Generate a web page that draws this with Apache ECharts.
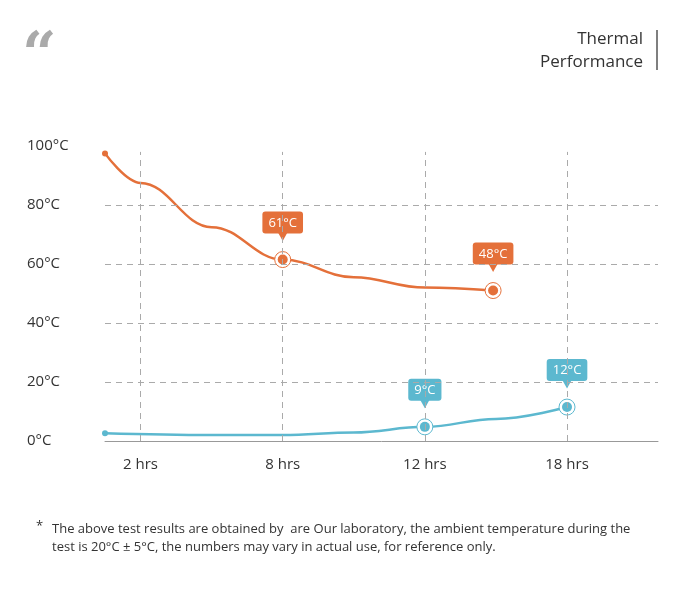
<!DOCTYPE html>
<html>
<head>
<meta charset="utf-8">
<script src="https://cdn.jsdelivr.net/npm/echarts@6/dist/echarts.min.js"></script>
<style>html,body{margin:0;background:#fff}#main{width:686px;height:594px}</style>
</head>
<body>
<div id="main"></div>
<script>
// x positions: 0 = 2 hrs, 1 = 8 hrs, 2 = 12 hrs, 3 = 18 hrs
var tickLabels = ['2 hrs', '8 hrs', '12 hrs', '18 hrs'];
var hotLine = [[-0.25, 97.5], [0, 87.5], [0.5, 72.5], [1, 61.5], [1.5, 55.5], [2, 52], [2.48, 51]];
var coldLine = [[-0.25, 2.6], [0.5, 2.0], [1, 2.0], [1.5, 2.9], [2, 4.8], [2.5, 7.5], [3, 11.5]];
var hotStart = [[-0.25, 97.5]];
var coldStart = [[-0.25, 2.6]];
var hotMarks = [[1, 61.5, '61°C'], [2.48, 51, '48°C']];
var coldMarks = [[2, 4.8, '9°C'], [3, 11.5, '12°C']];

var orange = '#e4703a', blue = '#5cb8cf';

function marks(data, color) {
  return [{
    type: 'scatter', data: data, symbol: 'circle', symbolSize: 16, z: 3,
    itemStyle: {color: '#fff', borderColor: color, borderWidth: 1, opacity: 1}
  }, {
    type: 'scatter', data: data, symbol: 'circle', symbolSize: 10, z: 4,
    itemStyle: {color: color, opacity: 1},
    label: {
      show: true, position: 'top', distance: 21,
      formatter: function (p) { return p.data[2]; },
      backgroundColor: color, borderRadius: 3, padding: [5, 6, 4, 6],
      color: '#fff', fontSize: 13, fontFamily: 'Open Sans'
    }
  }, {
    type: 'scatter', data: data, symbol: 'triangle', symbolSize: [10, 9],
    symbolRotate: 180, symbolOffset: [0, -23], z: 4,
    itemStyle: {color: color, opacity: 1}
  }];
}

var option = {
  animation: false,
  grid: {left: 105, right: 28, top: 146, bottom: 153},
  xAxis: {
    type: 'value', min: -0.25, max: 3.64, interval: 1,
    axisLine: {show: true, lineStyle: {color: '#999', width: 1}},
    axisTick: {show: false},
    splitLine: {show: false},
    axisLabel: {show: false}
  },
  yAxis: {
    type: 'value', min: 0, max: 100, interval: 20,
    axisLine: {show: false}, axisTick: {show: false},
    axisLabel: {
      formatter: function (v) { return v + '°C'; },
      color: '#333', fontSize: 15, fontFamily: 'Open Sans',
      align: 'left', margin: 78
    },
    splitLine: {show: false}
  },
  graphic: [
    {type: 'text', x: 22, y: 28, style: {text: '\u201C', fontSize: 60, fill: '#aaa', fontFamily: 'DejaVu Serif', fontWeight: 'bold'}},
    {type: 'text', x: 643, y: 28, style: {text: 'Thermal\nPerformance', fontSize: 17, fill: '#333', align: 'right', lineHeight: 23, fontFamily: 'Open Sans'}},
    {type: 'line', shape: {x1: 657, y1: 30, x2: 657, y2: 70}, style: {stroke: '#555', lineWidth: 1.5}},
    {type: 'text', x: 36, y: 520, style: {text: '*', fontSize: 13, fill: '#333', fontFamily: 'Open Sans'}},
    {type: 'text', x: 52, y: 520, style: {
      text: 'The above test results are obtained by  are Our laboratory, the ambient temperature during the\ntest is 20°C \u00B1 5°C, the numbers may vary in actual use, for reference only.',
      fontSize: 13, lineHeight: 18, fill: '#333', fontFamily: 'Open Sans'}}
  ],
  series: [{
    type: 'line', data: [], silent: true,
    markLine: {
      symbol: 'none', silent: true, label: {show: false},
      lineStyle: {color: '#aaa', type: [6, 5], width: 1},
      data: [{yAxis: 20}, {yAxis: 40}, {yAxis: 60}, {yAxis: 80},
        [{coord: [0, 0]}, {coord: [0, 98]}],
        [{coord: [1, 0]}, {coord: [1, 98]}],
        [{coord: [2, 0]}, {coord: [2, 98]}],
        [{coord: [3, 0]}, {coord: [3, 98]}]]
    }
  }, {
    type: 'line', data: hotLine, smooth: 0.4, smoothMonotone: 'x', showSymbol: false,
    lineStyle: {color: orange, width: 2.5}
  }, {
    type: 'line', data: coldLine, smooth: 0.4, smoothMonotone: 'x', showSymbol: false,
    lineStyle: {color: blue, width: 2.5}
  }, {
    type: 'scatter', data: hotStart, symbolSize: 6, itemStyle: {color: orange, opacity: 1}
  }, {
    type: 'scatter', data: coldStart, symbolSize: 6, itemStyle: {color: blue, opacity: 1}
  }].concat(marks(hotMarks, orange), marks(coldMarks, blue))
};

var chart = echarts.init(document.getElementById('main'));
chart.setOption(option);

// category labels under the axis
var g = option.graphic;
tickLabels.forEach(function (t, i) {
  var px = chart.convertToPixel({xAxisIndex: 0, yAxisIndex: 0}, [i, 0]);
  g.push({type: 'text', x: px[0], y: px[1] + 16, style: {text: t, fontSize: 15, fill: '#333', align: 'center', fontFamily: 'Open Sans'}});
});
chart.setOption({graphic: g});
</script>
</body>
</html>
